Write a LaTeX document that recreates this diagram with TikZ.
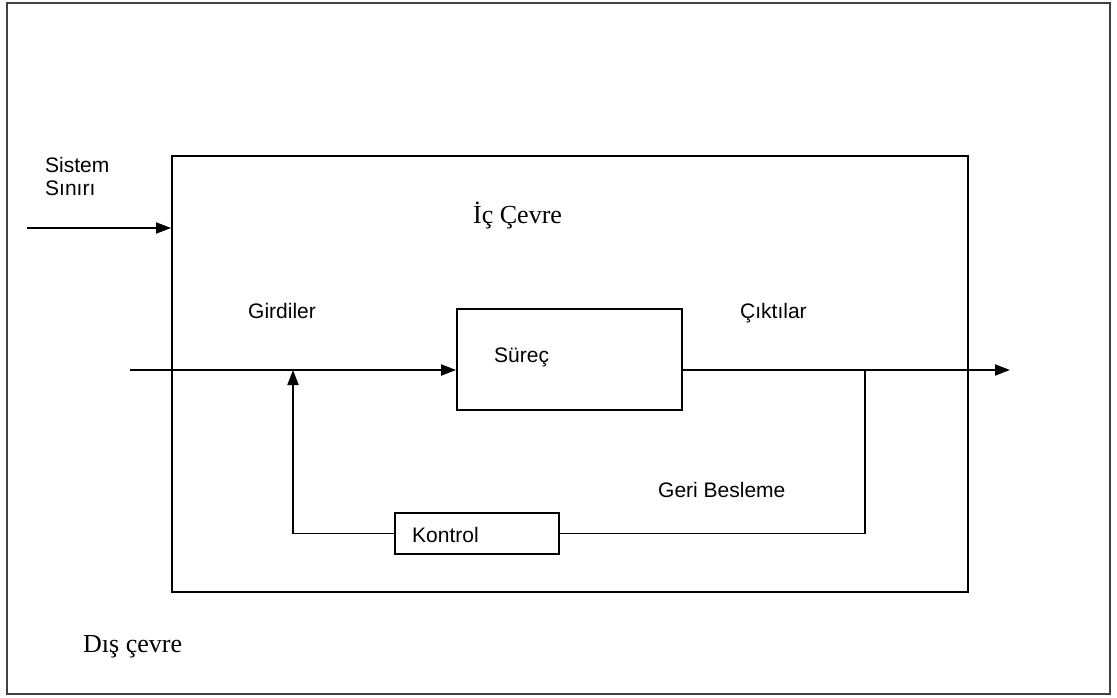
\documentclass[tikz,border=0pt]{standalone}
\usepackage{fontspec}
\setmainfont{Liberation Serif}
\setsansfont{Liberation Sans}
\usetikzlibrary{arrows.meta}
\begin{document}
\begin{tikzpicture}[x=1pt,y=-1pt,
  box/.style={draw=black,line width=1.8pt,minimum width=#1,inner sep=0pt},
  conn/.style={draw=black,line width=1.8pt},
  arr/.style={conn,-{Triangle[length=15pt,width=11pt]}},
  sans/.style={font=\sffamily\fontsize{21}{24}\selectfont,inner sep=0pt,anchor=base west,align=left},
  serif/.style={font=\rmfamily\fontsize{26}{30}\selectfont,inner sep=0pt,anchor=base west}]
\useasboundingbox (0,0) rectangle (1117,698);
\fill[white] (0,0) rectangle (1117,698);
% outer frame
\node[draw=black!75,line width=2pt,minimum width=1103pt,minimum height=691pt,inner sep=0pt] (frame) at (558.5,348.5) {};
% system boundary
\node[box=796pt,minimum height=436pt] (sys) at (570,374) {};
% process
\node[box=225pt,minimum height=101pt] (surec) at (569.5,359.5) {};
% control
\node[box=164pt,minimum height=41pt] (kontrol) at (477,533.5) {};
% coordinates
\coordinate (in0) at (130,370);
\coordinate (out0) at (1010,370);
\coordinate (fb) at (865,370);
\coordinate (fbl) at (293,370);
\coordinate (sin0) at (27,228);
% connectors
\draw[arr] (sin0) -- (sin0 -| sys.west);
\draw[arr] (in0) -- (in0 -| surec.west);
\draw[arr] (in0 -| surec.east) -- (out0);
\draw[conn] (fb) -- (fb |- kontrol.east) -- (kontrol.east);
\draw[arr] (kontrol.west) -- (kontrol.west -| fbl) -- (fbl);
% labels
\node[sans] (sistem) at (45,196) {Sistem\\Sınırı};
\node[serif] (ic) at (473,223) {İç Çevre};
\node[sans] (girdi) at (248,318) {Girdiler};
\node[sans] (surecl) at (494,362) {Süreç};
\node[sans] (cikti) at (740,318) {Çıktılar};
\node[sans] (geri) at (658,497) {Geri Besleme};
\node[sans] (kontroll) at (412,542) {Kontrol};
\node[serif] (dis) at (83,652) {Dış çevre};
\end{tikzpicture}
\end{document}
